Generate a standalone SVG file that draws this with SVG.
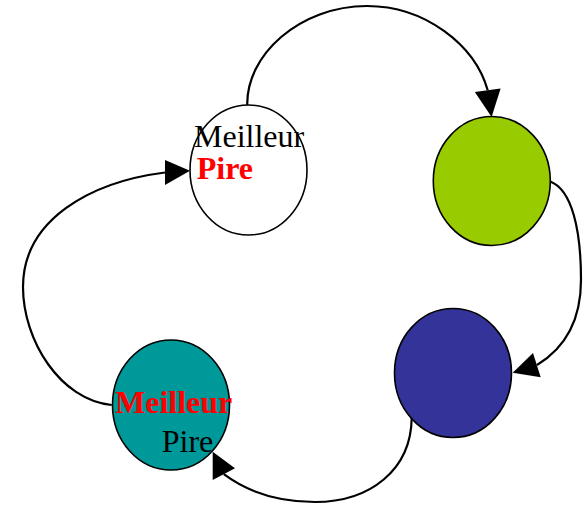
<svg xmlns="http://www.w3.org/2000/svg" width="586" height="507" viewBox="0 0 586 507">
<style>
.node{stroke:#000;stroke-width:1.6}
.conn{fill:none;stroke:#000;stroke-width:2.2}
.ah{fill:#000;stroke:none}
.t{font-family:"Liberation Serif","Times New Roman",serif;font-size:32px}
.red{fill:#FF0000;font-weight:bold}
.blk{fill:#000}
</style>
<rect width="586" height="507" fill="#fff"/>
<g id="connectors">
<path class="conn" d="M247.3,107 C245,55 300,6 367,6 C425,6 475,45 487.7,90.3"/>
<polygon class="ah" points="491.6,117 474.8,92.1 500.6,88.5"/>
<path class="conn" d="M550.7,181.7 C572,190 581,230 581,280 C581,320 565,348 537,365"/>
<polygon class="ah" points="512.7,372.7 533,353 540.7,377.3"/>
<path class="conn" d="M411.7,418 C411,470 370,502 315,502 C275,502 245,490 223.8,474.2"/>
<polygon class="ah" points="212.7,451.7 212.7,480 235,468.3"/>
<path class="conn" d="M111.7,405 C60,400 23,340 23,287 C23,220 90,182 165,172.5"/>
<polygon class="ah" points="190,170.7 165,160 165,185"/>
</g>
<g id="node-white">
<ellipse class="node" cx="248.5" cy="170" rx="58.5" ry="65" fill="#fff"/>
<text class="t blk" x="194" y="146.7">Meilleur</text>
<text class="t red" x="196.7" y="179">Pire</text>
</g>
<g id="node-green">
<ellipse class="node" cx="491.8" cy="181" rx="58.5" ry="64.5" fill="#99CC00"/>
</g>
<g id="node-blue">
<ellipse class="node" cx="453" cy="373" rx="58.5" ry="64.5" fill="#333399"/>
</g>
<g id="node-teal">
<ellipse class="node" cx="171" cy="405" rx="58.5" ry="65" fill="#009999"/>
<text class="t red" x="115" y="413">Meilleur</text>
<text class="t blk" x="161.7" y="451.7">Pire</text>
</g>
</svg>
